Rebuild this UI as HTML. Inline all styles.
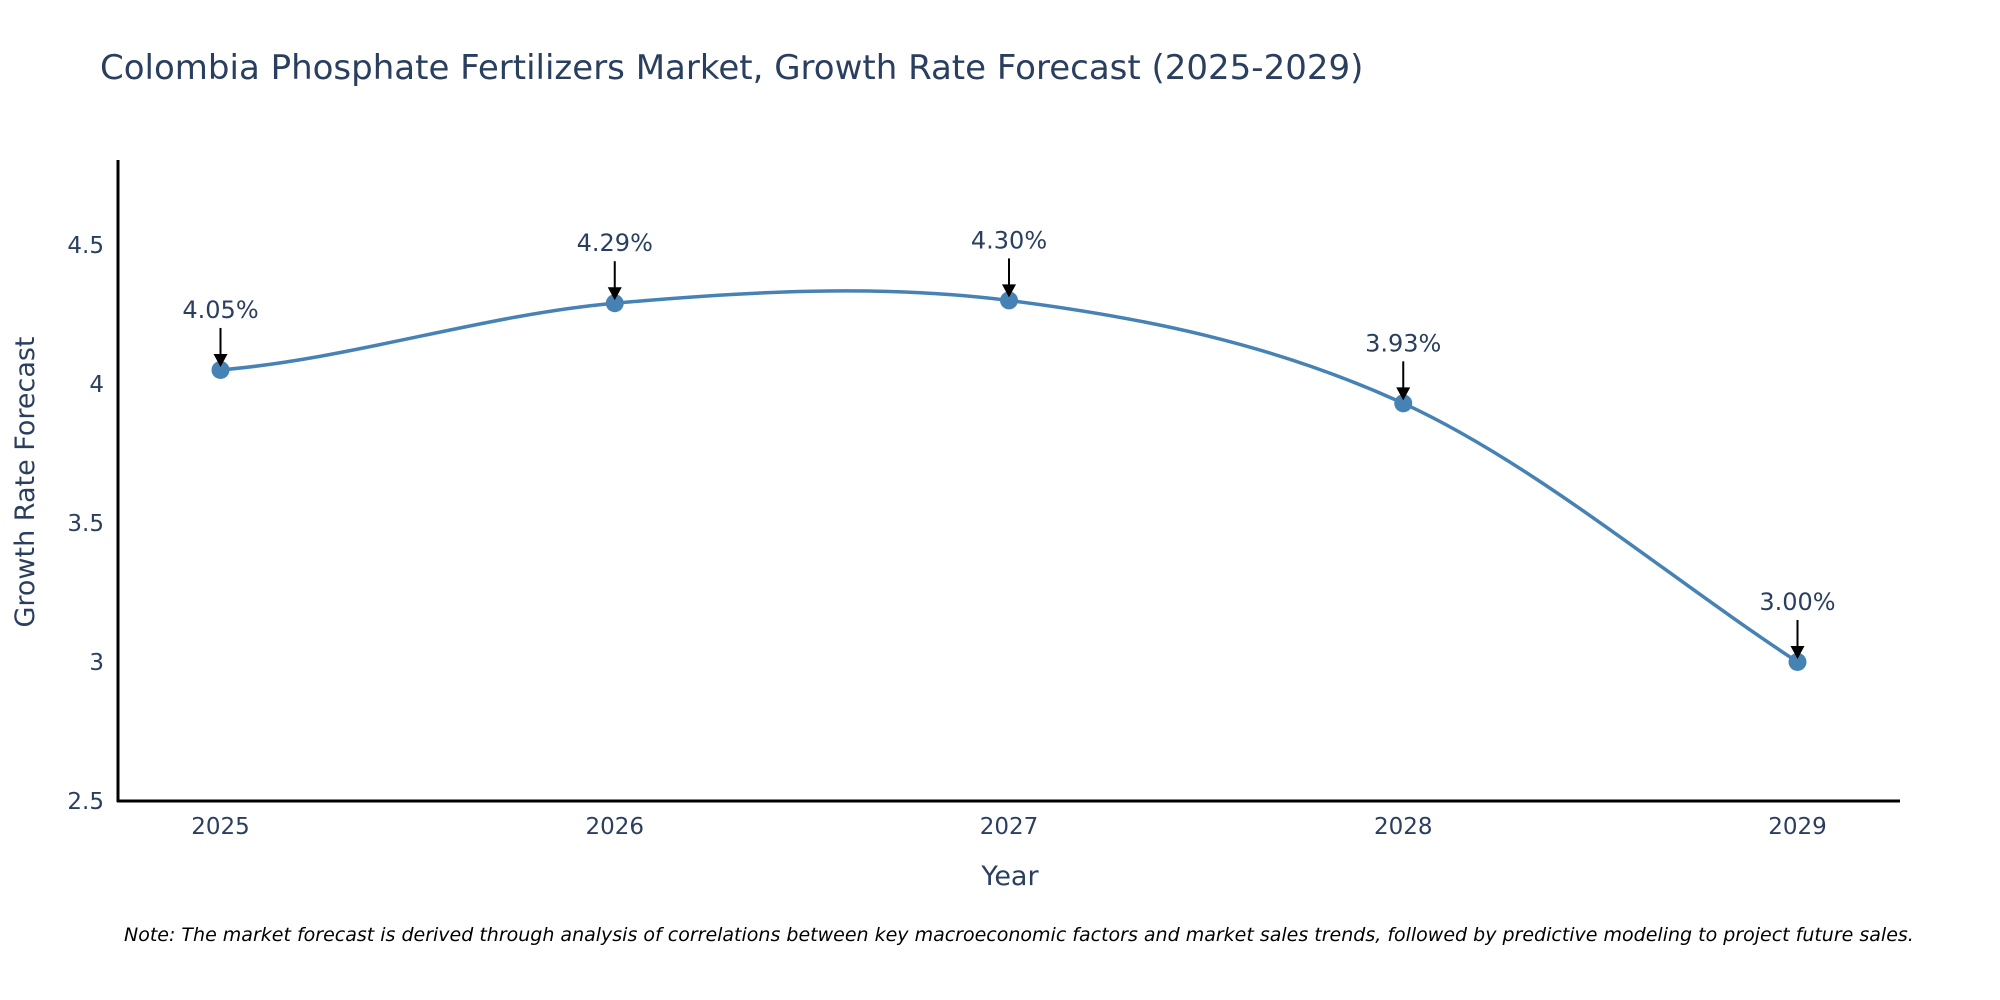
<!DOCTYPE html>
<html><head><meta charset="utf-8"><style>
body{margin:0;background:#fff;}
svg{display:block;font-family:"DejaVu Sans","Liberation Sans",sans-serif;}
</style></head><body>
<svg id="chart" width="2000" height="1000">
<text x="100" y="79" font-size="34" fill="#2a3f5f">Colombia Phosphate Fertilizers Market, Growth Rate Forecast (2025-2029)</text>
<path id="line" fill="none" stroke="#4682b4" stroke-width="3.5"></path>
<g id="marks"></g>
<line x1="118" y1="160" x2="118" y2="802" stroke="#000" stroke-width="3"/>
<line x1="117" y1="801" x2="1900" y2="801" stroke="#000" stroke-width="3"/>
<g id="ticks" font-size="23" fill="#2a3f5f"></g>
<text x="1010" y="885" font-size="27" fill="#2a3f5f" text-anchor="middle">Year</text>
<text transform="translate(34,482) rotate(-90)" font-size="27" fill="#2a3f5f" text-anchor="middle">Growth Rate Forecast</text>
<text x="124" y="941" font-size="19" font-style="italic" fill="#000">Note: The market forecast is derived through analysis of correlations between key macroeconomic factors and market sales trends, followed by predictive modeling to project future sales.</text>
</svg>
<script>
const years=[2025,2026,2027,2028,2029];
const rates=[4.05,4.29,4.30,3.93,3.00];
const labels=["4.05%","4.29%","4.30%","3.93%","3.00%"];
const yTicks=[2.5,3,3.5,4,4.5];
const yTickLabels=["2.5","3","3.5","4","4.5"];
const NS="http://www.w3.org/2000/svg";
const X0=118,X1=1900,XMIN=2024.74,XMAX=2029.26;
const Y0=801,Y1=160,YMIN=2.5,YMAX=4.805;
const xs=v=>X0+(v-XMIN)/(XMAX-XMIN)*(X1-X0);
const ys=v=>Y0-(v-YMIN)/(YMAX-YMIN)*(Y0-Y1);
function mk(tag,attrs,parent){const e=document.createElementNS(NS,tag);for(const k in attrs)e.setAttribute(k,attrs[k]);parent.appendChild(e);return e;}
const ticks=document.getElementById('ticks');
yTicks.forEach((t,i)=>{const e=mk('text',{x:104,y:ys(t)+8,'text-anchor':'end'},ticks);e.textContent=yTickLabels[i];

});
years.forEach(y=>{const e=mk('text',{x:xs(y),y:834,'text-anchor':'middle'},ticks);e.textContent=String(y);

});
const pts=years.map((y,i)=>[xs(y),ys(rates[i])]);
let d='M'+pts[0][0]+','+pts[0][1];const s=1/6;
for(let i=0;i<pts.length-1;i++){const p1=pts[i],p2=pts[i+1];
const p0=i>0?pts[i-1]:[2*p1[0]-p2[0],p1[1]];
const p3=i+2<pts.length?pts[i+2]:[2*p2[0]-p1[0],2*p2[1]-p1[1]];
const c1=[p1[0]+(p2[0]-p0[0])*s,p1[1]+(p2[1]-p0[1])*s];const c2=[p2[0]-(p3[0]-p1[0])*s,p2[1]-(p3[1]-p1[1])*s];
d+=' C'+c1+' '+c2+' '+p2;}
document.getElementById('line').setAttribute('d',d);
const marks=document.getElementById('marks');
pts.forEach((p,i)=>{
const c=mk('circle',{cx:p[0],cy:p[1],r:9,fill:'#4682b4'},marks);


const l=mk('line',{x1:p[0],y1:p[1]-42,x2:p[0],y2:p[1]-14,stroke:'#000','stroke-width':2},marks);


const a=mk('path',{d:`M${p[0]-7},${p[1]-16} L${p[0]+7},${p[1]-16} L${p[0]},${p[1]-3} Z`,fill:'#000'},marks);


const t=mk('text',{x:p[0],y:p[1]-52,'text-anchor':'middle','font-size':24,fill:'#2a3f5f'},marks);t.textContent=labels[i];


});
</script>
</body></html>
